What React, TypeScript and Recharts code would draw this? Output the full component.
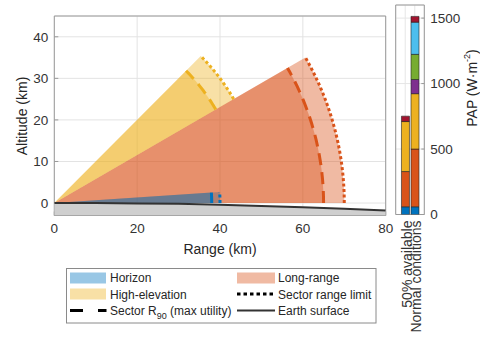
import React from 'react'
import { ScatterChart, Scatter, XAxis, YAxis, CartesianGrid, ReferenceArea, BarChart, Bar } from 'recharts'

const font = '"Liberation Sans", Arial, Helvetica, sans-serif'

// coverage sectors: angles in degrees, ranges in km
const sectorNames = ['Horizon', 'High-elevation', 'Long-range']
const sectorColors = ['#0072BD', '#EDB120', '#D95319']
const sectorMinAngle = [0, 30, 0]
const sectorMaxAngle = [3.8, 45, 30]
const sectorR90 = [38, 45, 65]
const sectorRangeLimit = [40, 50, 70]
const drawOrder = [2, 1, 0]

// earth surface
const surfaceRange = [0, 10, 20, 30, 40, 50, 60, 70, 80]
const surfaceAlt = [0, 0, -0.1, -0.2, -0.4, -0.7, -1.0, -1.4, -1.8]

const xTicks = [0, 20, 40, 60, 80]
const yTicks = [0, 10, 20, 30, 40]
const yMin = -3
const yMax = 45

// PAP stacked bars
const barCategories = ['50% available', 'Normal conditions']
const barPositions = [1, 2]
const papBlue = [59, 59]
const papOrange = [269, 441]
const papYellow = [382, 423]
const papPurple = [0, 108]
const papGreen = [0, 192]
const papCyan = [0, 246]
const papRed = [41, 44]
const papTicks = [0, 500, 1000, 1500]

const segments = [
  { key: 'blue', values: papBlue, color: '#0072BD' },
  { key: 'orange', values: papOrange, color: '#D95319' },
  { key: 'yellow', values: papYellow, color: '#EDB120' },
  { key: 'purple', values: papPurple, color: '#7E2F8E' },
  { key: 'green', values: papGreen, color: '#77AC30' },
  { key: 'cyan', values: papCyan, color: '#4DBEEE' },
  { key: 'red', values: papRed, color: '#A2142F' },
]

const barRows = barPositions.map((pos, i) => {
  const row: Record<string, number> = { pos }
  segments.forEach((s) => { row[s.key] = s.values[i] })
  return row
})

function arcPoints(r: number, a0: number, a1: number) {
  const n = Math.max(2, Math.ceil(Math.abs(a1 - a0) / 0.5))
  const pts = []
  for (let i = 0; i <= n; i++) {
    const a = ((a0 + ((a1 - a0) * i) / n) * Math.PI) / 180
    pts.push({ x: r * Math.cos(a), y: r * Math.sin(a) })
  }
  return pts
}

function sectorPoints(r: number, a0: number, a1: number) {
  return [{ x: 0, y: 0 }, ...arcPoints(r, a0, a1)]
}

const surfacePoints = surfaceRange.map((x, i) => ({ x, y: surfaceAlt[i] }))
const groundPoints = [...surfacePoints, { x: 80, y: yMin }, { x: 0, y: yMin }]

const noDot = () => <g />

function CategoryTick(props: any) {
  const { x, y, payload } = props
  const idx = barPositions.indexOf(payload.value)
  const tx = x + 1.5
  return (
    <text x={tx} y={y} transform={`rotate(-90 ${tx} ${y})`} textAnchor="end" dominantBaseline="central"
      fontSize={14} fill="#333" fontFamily={font}>
      {barCategories[idx]}
    </text>
  )
}

function MainChart() {
  return (
    <ScatterChart width={400} height={262} margin={{ top: 16, right: 14.3, left: 14.3, bottom: 6.5 }}>
      <CartesianGrid stroke="#e3e3e3" />
      <XAxis type="number" dataKey="x" domain={[0, 80]} ticks={xTicks} allowDataOverflow
        axisLine={false} tickLine={{ stroke: '#999' }} tickSize={-4} tickMargin={12} height={40}
        tick={{ fill: '#333', fontSize: 13.5, fontFamily: font }} />
      <YAxis type="number" dataKey="y" domain={[yMin, yMax]} ticks={yTicks} allowDataOverflow
        axisLine={false} tickLine={{ stroke: '#999' }} tickSize={-4} tickMargin={10} width={40}
        tick={{ fill: '#333', fontSize: 13.5, fontFamily: font }} />
      <Scatter data={groundPoints} shape={noDot} line={{ fill: '#cfcfcf', stroke: 'none' }}
        lineJointType="linearClosed" isAnimationActive={false} />
      {drawOrder.map((i) => (
        <Scatter key={'full-' + sectorNames[i]} data={sectorPoints(sectorRangeLimit[i], sectorMinAngle[i], sectorMaxAngle[i])}
          shape={noDot} line={{ fill: sectorColors[i], fillOpacity: 0.4, stroke: 'none' }}
          lineJointType="linearClosed" isAnimationActive={false} />
      ))}
      {drawOrder.map((i) => (
        <Scatter key={'r90-' + sectorNames[i]} data={sectorPoints(sectorR90[i], sectorMinAngle[i], sectorMaxAngle[i])}
          shape={noDot} line={{ fill: sectorColors[i], fillOpacity: 0.4, stroke: 'none' }}
          lineJointType="linearClosed" isAnimationActive={false} />
      ))}
      {drawOrder.map((i) => (
        <Scatter key={'r90line-' + sectorNames[i]} data={arcPoints(sectorR90[i], sectorMinAngle[i], sectorMaxAngle[i])}
          shape={noDot} line={{ stroke: sectorColors[i], strokeWidth: 3, strokeDasharray: '12 7', fill: 'none' }}
          lineJointType="linear" isAnimationActive={false} />
      ))}
      {drawOrder.map((i) => (
        <Scatter key={'limit-' + sectorNames[i]} data={arcPoints(sectorRangeLimit[i], sectorMinAngle[i], sectorMaxAngle[i])}
          shape={noDot} line={{ stroke: sectorColors[i], strokeWidth: 3, strokeDasharray: '3 2.5', fill: 'none' }}
          lineJointType="linear" isAnimationActive={false} />
      ))}
      <Scatter data={surfacePoints} shape={noDot} line={{ stroke: '#333', strokeWidth: 2, fill: 'none' }}
        lineJointType="linear" isAnimationActive={false} />
      <ReferenceArea x1={0} x2={80} y1={yMin} y2={yMax} fill="none" stroke="#9a9a9a" strokeWidth={1} />
    </ScatterChart>
  )
}

function PapChart() {
  return (
    <BarChart width={100} height={339} data={barRows} margin={{ top: 5, right: 15.7, left: 15.7, bottom: 4.5 }}>
      <CartesianGrid stroke="#e6e6e6" />
      <XAxis type="number" dataKey="pos" domain={[0, 3]} ticks={barPositions} interval={0}
        axisLine={false} tickLine={false} tickSize={0} tickMargin={6} height={120} tick={<CategoryTick />} />
      <YAxis orientation="right" type="number" domain={[0, 1600]} ticks={papTicks} allowDataOverflow
        axisLine={false} tickLine={{ stroke: '#999' }} tickSize={-3} tickMargin={9} width={40}
        tick={{ fill: '#333', fontSize: 13.5, fontFamily: font, textAnchor: 'start' }} />
      {segments.map((s) => (
        <Bar key={s.key} dataKey={s.key} stackId="pap" fill={s.color} stroke="#222" strokeWidth={0.6}
          barSize={8} isAnimationActive={false} />
      ))}
      <ReferenceArea x1={0} x2={3} y1={0} y2={1600} fill="none" stroke="#9a9a9a" strokeWidth={1} />
    </BarChart>
  )
}

function Overlay() {
  const t = { fontFamily: font, fill: '#262626' }
  return (
    <svg width={480} height={339} style={{ position: 'absolute', left: 0, top: 0, pointerEvents: 'none' }}>
      <text x={22} y={116} transform="rotate(-90 22 116)" textAnchor="middle" dominantBaseline="central" fontSize={14} {...t}>
        Altitude (km)
      </text>
      <text x={220} y={248.5} textAnchor="middle" dominantBaseline="central" fontSize={14} {...t}>Range (km)</text>
      <text x={472} y={88} transform="rotate(-90 472 88)" textAnchor="middle" dominantBaseline="central" fontSize={14} {...t}>
        PAP (W·m<tspan dy={-5} fontSize={9}>-2</tspan><tspan dy={5}>)</tspan>
      </text>

      <rect x={66.5} y={268.5} width={309.5} height={54.5} fill="#fff" stroke="#8a8a8a" />
      <rect x={70} y={272.5} width={36} height={11} fill={sectorColors[0]} fillOpacity={0.4} />
      <text x={110} y={282.3} fontSize={12} {...t}>{sectorNames[0]}</text>
      <rect x={70} y={288.5} width={36} height={11} fill={sectorColors[1]} fillOpacity={0.4} />
      <text x={110} y={298.5} fontSize={12} {...t}>{sectorNames[1]}</text>
      <line x1={70} x2={106.5} y1={310.5} y2={310.5} stroke="#000" strokeWidth={3} strokeDasharray="13 15" />
      <text x={110} y={314.8} fontSize={12} {...t}>
        Sector R<tspan dy={4} fontSize={9}>90</tspan><tspan dy={-4}> (max utility)</tspan>
      </text>

      <rect x={237} y={272.5} width={38} height={11} fill={sectorColors[2]} fillOpacity={0.4} />
      <text x={278} y={282.3} fontSize={12} {...t}>{sectorNames[2]}</text>
      <line x1={237} x2={275} y1={294} y2={294} stroke="#000" strokeWidth={3} strokeDasharray="3.5 3" />
      <text x={278} y={298.5} fontSize={12} {...t}>Sector range limit</text>
      <line x1={237} x2={275} y1={310.5} y2={310.5} stroke="#333" strokeWidth={2} />
      <text x={278} y={314.8} fontSize={12} {...t}>Earth surface</text>
    </svg>
  )
}

export default function App() {
  return (
    <div style={{ position: 'absolute', left: 0, top: 0, width: 480, height: 339, background: '#fff', fontFamily: font }}>
      <div style={{ position: 'absolute', left: 0, top: 0 }}>
        <MainChart />
      </div>
      <div style={{ position: 'absolute', left: 380, top: 0 }}>
        <PapChart />
      </div>
      <Overlay />
    </div>
  )
}
